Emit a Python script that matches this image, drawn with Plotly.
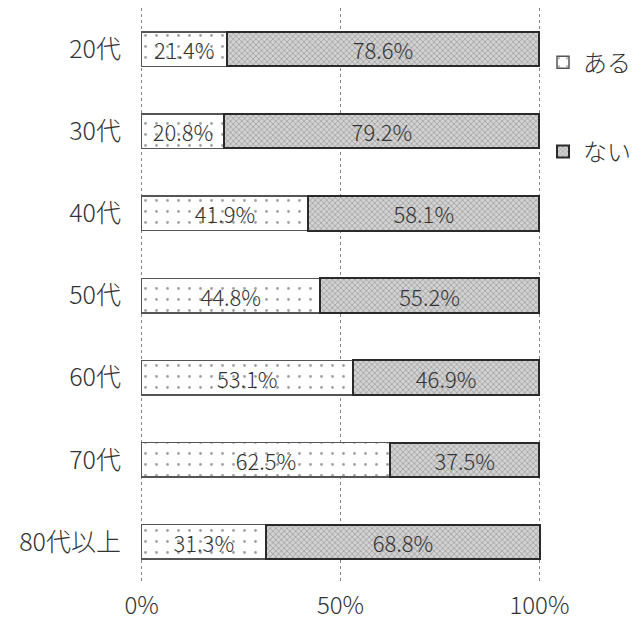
import plotly.graph_objects as go

categories = ["20代", "30代", "40代", "50代", "60代", "70代", "80代以上"]
aru = [21.4, 20.8, 41.9, 44.8, 53.1, 62.5, 31.3]
nai = [78.6, 79.2, 58.1, 55.2, 46.9, 37.5, 68.8]
x_ticks = [0, 50, 100]
x_tick_labels = ["0%", "50%", "100%"]

FONT = "Noto Sans CJK JP"

fig = go.Figure()
fig.add_trace(go.Bar(
    y=categories, x=aru, orientation="h", name="ある", legendgroup="a",
    text=[f"{v:.1f}%" for v in aru], textposition="inside", insidetextanchor="middle",
    textfont=dict(size=22, color="#333333", family=FONT, weight=300),
    marker=dict(color="white", line=dict(color="#555555", width=1.5),
                pattern=dict(shape=".", fgcolor="#444444", bgcolor="white", size=11, solidity=0.05)),
    width=0.42, constraintext="none",
))
fig.add_trace(go.Bar(
    y=categories, x=nai, orientation="h", name="ない", legendgroup="b",
    text=[f"{v:.1f}%" for v in nai], textposition="inside", insidetextanchor="middle",
    textfont=dict(size=22, color="#333333", family=FONT, weight=300),
    marker=dict(color="#c8c8c8", line=dict(color="#2a2a2a", width=2),
                pattern=dict(shape="x", fgcolor="#7a7a7a", bgcolor="#d2d2d2", size=4, solidity=0.4)),
    width=0.42, constraintext="none",
))

fig.update_layout(
    barmode="stack",
    width=634, height=615,
    margin=dict(l=132, r=101, t=0, b=40, autoexpand=False),
    paper_bgcolor="white", plot_bgcolor="white",
    font=dict(family=FONT, color="#333333"),
    showlegend=True,
    legend=dict(x=1.005, y=0.944, xanchor="left", yanchor="top",
                traceorder="grouped", tracegroupgap=55,
                font=dict(size=24, color="#333333", family=FONT, weight=300),
                itemwidth=30, bgcolor="rgba(0,0,0,0)"),
)
fig.update_xaxes(range=[-0.4, 100.4], tickvals=x_ticks, ticktext=x_tick_labels,
                 showgrid=True, gridcolor="#888888", gridwidth=1, griddash="dot",
                 zeroline=False, showline=False, automargin=False,
                 tickfont=dict(size=24, color="#333333", family=FONT, weight=300),
                 ticklen=0, ticklabelstandoff=6)
fig.update_yaxes(categoryorder="array", categoryarray=categories, autorange="reversed",
                 showgrid=False, zeroline=False, showline=False, automargin=False,
                 tickfont=dict(size=25, color="#333333", family=FONT, weight=300),
                 ticklen=0, ticklabelstandoff=18)

fig.write_html("out.html")
